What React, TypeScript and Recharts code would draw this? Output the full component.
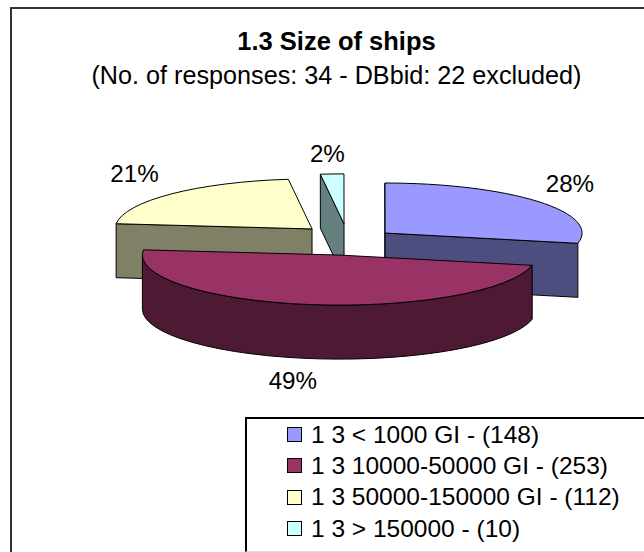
import React from "react";
import { PieChart, Pie, Legend } from "recharts";

const categories = ["1 3 < 1000 GI", "1 3 10000-50000 GI", "1 3 50000-150000 GI", "1 3 > 150000"];
const responses = [148, 253, 112, 10];
const percentLabels = ["28%", "49%", "21%", "2%"];
const topColors = ["#9999FF", "#993366", "#FFFFCC", "#CCFFFF"];
const sideColors = ["#4D4D80", "#4D1933", "#808066", "#668080"];
// how far each slice is pulled out of the pie, as fraction of the radius, across and up/down
const explodeX = [0.249, 0.249, 0.249, 0.249];
const explodeY = [0.0721, 0.0672, 0.0945, 0.092];
// small adjustment of each percent label
const labelNudgeX = [-3, -9, -5, -2];
const labelNudgeY = [-2, -3, -3, 4];
// draw order, back to front: the pie starts at the yellow slice so that maroon paints last
const drawOrder = [2, 3, 0, 1];

const W = 644;
const H = 552;
const CX = 347;
const CY = 242;
const RADIUS = 197;
const TILT = 0.254;
const DEPTH = 54;
const LABEL_SIZE = 24.2;
const LEGEND_SIZE = 24.5;
const FONT = '"Liberation Sans", Arial, sans-serif';

const pieData = drawOrder.map((i) => ({
  name: categories[i],
  value: responses[i],
  idx: i,
  label: percentLabels[i],
  fill: topColors[i],
  side: sideColors[i],
}));

const rad = (d: number) => (d * Math.PI) / 180;
const mid = (p: any) => (p.startAngle + p.endAngle) / 2;

function apex(cx: number, cy: number, r: number, idx: number, angle: number) {
  const t = rad(angle);
  return { x: cx + Math.cos(t) * r * explodeX[idx], y: cy - Math.sin(t) * r * explodeY[idx] };
}

function Slice3D(p: any) {
  const { cx, cy, outerRadius: r, startAngle, endAngle, idx, fill, side } = p;
  const a = apex(cx, cy, r, idx, mid(p));
  const pt = (theta: number, dz = 0) => ({
    x: a.x + r * Math.sin(rad(theta)),
    y: a.y - r * TILT * Math.cos(rad(theta)) + dz,
  });
  let s = (90 - startAngle) % 360;
  if (s < 0) s += 360;
  const e = s + Math.abs(startAngle - endAngle);
  const arc = (from: number, to: number, dz: number, sweep: number) => {
    const q = pt(to, dz);
    return `A${r} ${r * TILT} 0 ${Math.abs(to - from) > 180 ? 1 : 0} ${sweep} ${q.x} ${q.y}`;
  };
  const face = (theta: number) => {
    const o = pt(theta);
    const o2 = pt(theta, DEPTH);
    return `M${a.x} ${a.y}L${o.x} ${o.y}L${o2.x} ${o2.y}L${a.x} ${a.y + DEPTH}Z`;
  };
  const faces: string[] = [];
  if (Math.sin(rad(s)) < -1e-6) faces.push(face(s));
  if (Math.sin(rad(e)) > 1e-6) faces.push(face(e));
  const f0 = Math.max(s, 90);
  const f1 = Math.min(e, 270);
  const st = pt(s);
  const top = `M${a.x} ${a.y}L${st.x} ${st.y}${arc(s, e, 0, 1)}Z`;
  let rim = "";
  if (f1 > f0) {
    const b0 = pt(f0);
    const b1 = pt(f1, DEPTH);
    rim = `M${b0.x} ${b0.y}${arc(f0, f1, 0, 1)}L${b1.x} ${b1.y}${arc(f1, f0, DEPTH, 0)}Z`;
  }
  return (
    <g stroke="#000" strokeWidth={1} strokeLinejoin="round">
      {faces.map((d) => (
        <path key={d} d={d} fill={side} />
      ))}
      {rim && <path d={rim} fill={side} />}
      <path d={top} fill={fill} />
    </g>
  );
}

function PercentLabel(p: any) {
  const { cx, cy, outerRadius: r, idx, label, midAngle } = p;
  const a = apex(cx, cy, r, idx, midAngle);
  const t = rad(midAngle);
  const x = a.x + Math.cos(t) * (r + 45) + labelNudgeX[idx];
  const dy = -Math.sin(t) * (r * TILT + 25);
  const y = a.y + dy + (dy > 0 ? DEPTH : 0) + labelNudgeY[idx];
  return (
    <text x={x} y={y} textAnchor="middle" dominantBaseline="central" fontFamily={FONT} fontSize={LABEL_SIZE} fill="#000" stroke="none">
      {label}
    </text>
  );
}

function LegendBox() {
  return (
    <div style={{ paddingLeft: 40 }}>
      {categories.map((c, i) => (
        <div key={c} style={{ height: 31.3, display: "flex", alignItems: "center", whiteSpace: "nowrap", fontFamily: FONT, fontSize: LEGEND_SIZE, color: "#000" }}>
          <span style={{ width: 15, height: 15, boxSizing: "border-box", background: topColors[i], border: "1.5px solid #000", marginRight: 9, flex: "none" }} />
          {`${c} - (${responses[i]})`}
        </div>
      ))}
    </div>
  );
}

export default function App() {
  return (
    <div style={{ position: "fixed", left: 0, top: 0, width: W, height: H, background: "#fff", overflow: "hidden" }}>
      <div style={{ position: "absolute", left: 10, top: 7, width: W + 10, height: H + 10, border: "2px solid #333", boxSizing: "border-box" }} />
      <div style={{ position: "absolute", left: 0, width: 673, top: 29, textAlign: "center", fontFamily: FONT, fontSize: 25.5, fontWeight: 700, color: "#000", lineHeight: "24px" }}>1.3 Size of ships</div>
      <div style={{ position: "absolute", left: 0, width: 673, top: 63, textAlign: "center", fontFamily: FONT, fontSize: 25.2, color: "#000", lineHeight: "24px" }}>(No. of responses: 34 - DBbid: 22 excluded)</div>
      <PieChart width={W} height={H} margin={{ top: 0, right: 0, bottom: 0, left: 0 }} style={{ position: "absolute", left: 0, top: 0 }}>
        <Pie
          data={pieData}
          dataKey="value"
          nameKey="name"
          cx={CX}
          cy={CY}
          outerRadius={RADIUS}
          innerRadius={0}
          startAngle={174}
          endAngle={-186}
          stroke="none"
          isAnimationActive={false}
          shape={Slice3D}
          label={PercentLabel}
          labelLine={false}
        />
        <Legend
          content={<LegendBox />}
          wrapperStyle={{ position: "absolute", left: 245, top: 417, width: 420, height: 135, background: "#fff", borderLeft: "2px solid #000", borderTop: "2px solid #000", borderBottom: "1px solid #ddd", boxSizing: "border-box" }}
        />
      </PieChart>
    </div>
  );
}
